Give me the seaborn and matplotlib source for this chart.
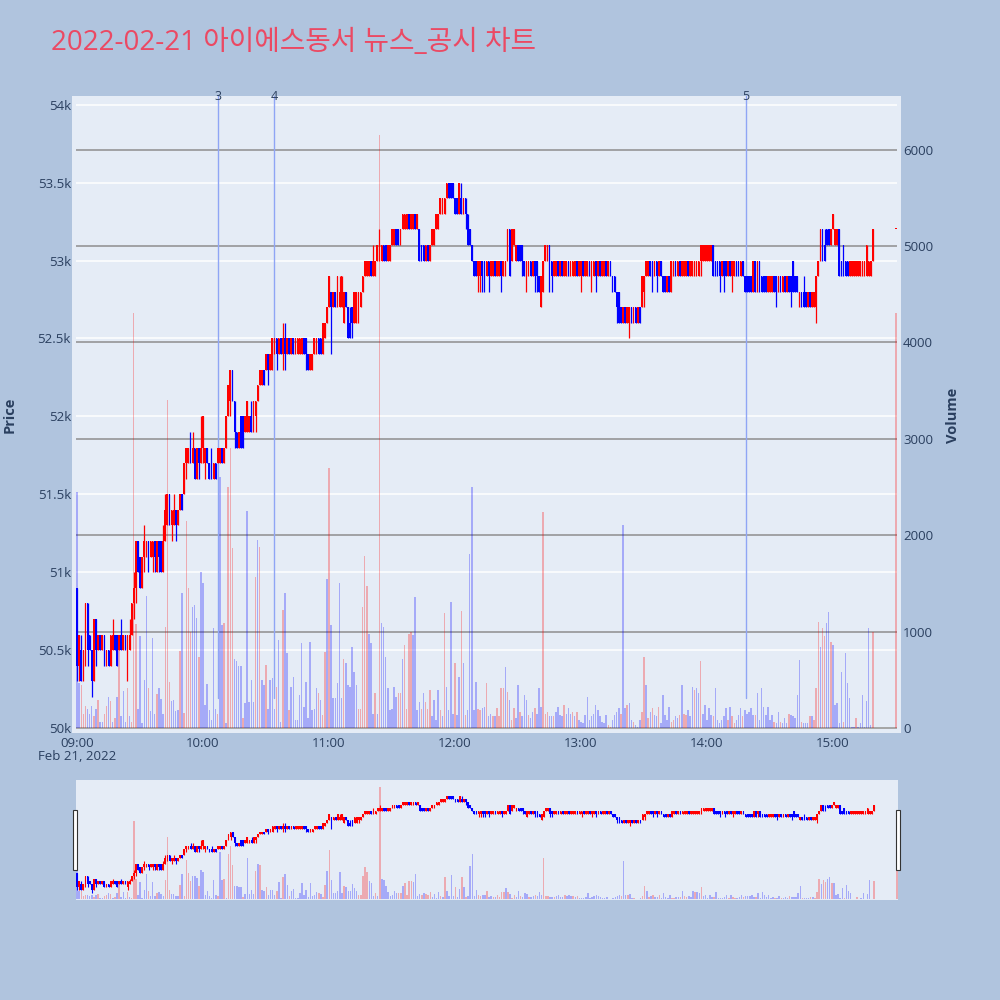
import matplotlib
matplotlib.use("Agg")
import matplotlib.pyplot as plt
import seaborn as sns
import pandas as pd
from matplotlib.patches import Rectangle

# minutes after 09:00, last entry is the 15:30 closing auction
minutes = list(range(380)) + [390]

# one-minute candles, prices in units of 100 won
opens = [
    509, 504, 505, 503, 504, 508, 506, 505, 503, 507, 505, 506, 505, 506, 504, 505, 504, 505, 506, 506,
    505, 506, 505, 506, 504, 505, 506, 508, 509, 512, 511, 509, 511, 511, 512, 511, 511, 512, 510, 512,
    512, 510, 512, 513, 515, 513, 513, 514, 513, 514, 515, 515, 517, 517, 518, 517, 518, 516, 518, 517,
    518, 517, 518, 517, 517, 516, 517, 517, 517, 518, 517, 518, 520, 521, 523, 521, 519, 518, 520, 520,
    519, 519, 519, 520, 519, 520, 521, 522, 522, 523, 523, 524, 523, 523, 524, 525, 524, 525, 524, 525,
    524, 525, 524, 525, 524, 524, 524, 524, 525, 525, 524, 523, 523, 524, 524, 525, 525, 524, 525, 526,
    527, 528, 527, 528, 527, 527, 527, 526, 528, 527, 526, 527, 526, 526, 527, 527, 528, 529, 529, 529,
    530, 529, 529, 530, 530, 530, 531, 531, 530, 530, 531, 531, 532, 532, 531, 532, 532, 532, 533, 532,
    532, 533, 532, 532, 531, 531, 530, 531, 530, 531, 531, 532, 532, 533, 533, 533, 534, 535, 535, 535,
    534, 534, 533, 534, 533, 534, 533, 532, 531, 530, 530, 529, 529, 530, 530, 529, 530, 529, 529, 530,
    529, 529, 530, 529, 529, 530, 532, 530, 531, 530, 531, 531, 531, 530, 528, 529, 530, 529, 530, 530,
    529, 527, 528, 530, 530, 531, 530, 529, 529, 530, 529, 530, 529, 529, 530, 529, 529, 529, 530, 529,
    529, 530, 529, 529, 530, 529, 529, 530, 529, 530, 529, 529, 530, 529, 530, 529, 529, 528, 528, 527,
    526, 527, 526, 526, 527, 526, 527, 526, 527, 527, 528, 529, 529, 530, 530, 529, 530, 529, 530, 529,
    529, 528, 529, 528, 529, 530, 529, 530, 529, 529, 529, 530, 529, 529, 529, 529, 529, 530, 530, 530,
    530, 530, 530, 531, 530, 530, 530, 529, 530, 530, 529, 530, 529, 529, 530, 530, 529, 530, 529, 529,
    529, 529, 528, 530, 529, 530, 529, 529, 529, 528, 528, 528, 529, 529, 528, 529, 528, 529, 528, 529,
    529, 530, 529, 529, 527, 528, 528, 528, 527, 528, 527, 527, 527, 529, 530, 532, 531, 532, 532, 531,
    532, 531, 531, 532, 530, 531, 530, 530, 529, 529, 529, 529, 529, 529, 529, 529, 529, 529, 529, 530,
    532,
]
closes = [
    504, 506, 503, 505, 508, 505, 505, 503, 507, 505, 506, 505, 506, 504, 505, 504, 506, 506, 505, 504,
    506, 505, 506, 505, 506, 506, 508, 509, 512, 510, 509, 511, 512, 512, 511, 512, 512, 511, 512, 511,
    510, 512, 514, 515, 513, 514, 514, 513, 514, 515, 514, 517, 518, 518, 517, 518, 516, 518, 517, 518,
    520, 518, 517, 516, 516, 517, 516, 518, 518, 517, 518, 520, 522, 523, 521, 519, 518, 519, 518, 518,
    520, 521, 520, 519, 521, 521, 522, 523, 523, 522, 524, 523, 524, 525, 525, 524, 525, 524, 525, 524,
    525, 524, 525, 524, 525, 525, 525, 525, 524, 524, 523, 524, 524, 525, 525, 524, 524, 526, 526, 527,
    529, 527, 528, 527, 529, 528, 529, 528, 527, 525, 525, 526, 528, 528, 528, 528, 529, 530, 530, 530,
    529, 530, 530, 531, 531, 531, 530, 530, 531, 531, 532, 532, 531, 531, 532, 533, 533, 533, 532, 533,
    533, 532, 533, 530, 530, 530, 531, 530, 531, 532, 532, 533, 533, 534, 534, 534, 535, 534, 534, 534,
    533, 533, 535, 533, 534, 533, 531, 531, 530, 529, 529, 530, 530, 529, 529, 530, 529, 530, 530, 529,
    530, 530, 529, 530, 530, 532, 529, 532, 532, 531, 530, 530, 530, 529, 530, 530, 529, 530, 529, 529,
    528, 529, 530, 531, 531, 529, 529, 530, 530, 529, 530, 529, 530, 530, 529, 530, 530, 530, 529, 530,
    530, 529, 530, 530, 529, 530, 530, 529, 530, 529, 530, 530, 529, 530, 529, 528, 528, 527, 526, 526,
    527, 526, 527, 527, 526, 527, 526, 527, 526, 529, 529, 530, 530, 529, 529, 530, 529, 530, 529, 528,
    528, 529, 528, 530, 530, 529, 530, 529, 530, 530, 530, 529, 530, 530, 530, 530, 530, 531, 531, 531,
    531, 531, 531, 529, 529, 529, 529, 530, 529, 529, 530, 529, 530, 530, 529, 529, 530, 529, 528, 528,
    528, 528, 530, 528, 530, 528, 528, 528, 528, 529, 529, 529, 528, 528, 529, 528, 529, 528, 529, 528,
    528, 528, 528, 528, 528, 527, 527, 527, 528, 527, 528, 528, 529, 530, 532, 530, 530, 531, 531, 532,
    533, 532, 532, 529, 529, 529, 529, 529, 530, 530, 530, 530, 530, 530, 530, 530, 531, 530, 530, 532,
    532,
]
highs = [
    509, 506, 506, 505, 508, 508, 506, 505, 507, 507, 506, 506, 506, 506, 505, 505, 506, 507, 506, 506,
    506, 507, 506, 506, 506, 507, 508, 510, 512, 512, 511, 511, 513, 512, 512, 512, 512, 512, 512, 512,
    512, 513, 515, 515, 515, 514, 515, 514, 514, 515, 515, 517, 518, 518, 519, 519, 518, 518, 518, 520,
    520, 518, 518, 517, 518, 517, 517, 518, 518, 518, 518, 520, 522, 523, 523, 521, 519, 519, 520, 520,
    520, 521, 520, 521, 521, 521, 522, 523, 523, 523, 524, 524, 524, 525, 525, 525, 525, 525, 526, 526,
    525, 525, 525, 525, 525, 525, 525, 525, 525, 525, 524, 524, 524, 525, 525, 525, 525, 526, 526, 527,
    529, 528, 528, 528, 529, 529, 529, 528, 528, 527, 527, 527, 528, 528, 528, 528, 529, 530, 530, 530,
    530, 531, 530, 531, 532, 531, 531, 531, 531, 531, 532, 532, 532, 532, 532, 533, 533, 533, 533, 533,
    533, 533, 533, 532, 531, 531, 531, 531, 531, 532, 532, 533, 533, 534, 534, 534, 535, 535, 535, 535,
    534, 534, 535, 535, 534, 534, 533, 532, 531, 530, 530, 530, 530, 530, 530, 530, 530, 530, 530, 530,
    530, 530, 530, 530, 530, 532, 532, 532, 532, 531, 531, 531, 531, 530, 530, 530, 530, 530, 530, 530,
    529, 529, 530, 531, 531, 531, 530, 530, 530, 530, 530, 530, 530, 530, 530, 530, 530, 530, 530, 530,
    530, 530, 530, 530, 530, 530, 530, 530, 530, 530, 530, 530, 530, 530, 530, 529, 529, 528, 528, 527,
    527, 527, 527, 527, 527, 527, 527, 527, 527, 529, 529, 530, 530, 530, 530, 530, 530, 530, 530, 529,
    529, 529, 529, 530, 530, 530, 530, 530, 530, 530, 530, 530, 530, 530, 530, 530, 530, 531, 531, 531,
    531, 531, 531, 531, 530, 530, 530, 530, 530, 530, 530, 530, 530, 530, 530, 530, 530, 530, 529, 529,
    529, 529, 530, 530, 530, 530, 529, 529, 529, 529, 529, 529, 529, 529, 529, 529, 529, 529, 529, 529,
    529, 530, 529, 529, 528, 528, 529, 528, 528, 528, 528, 528, 529, 530, 532, 532, 532, 532, 532, 532,
    533, 532, 532, 532, 530, 531, 530, 530, 530, 530, 530, 530, 530, 530, 530, 530, 531, 530, 530, 532,
    532,
]
lows = [
    503, 503, 503, 503, 504, 504, 505, 502, 503, 504, 505, 505, 505, 504, 504, 504, 504, 505, 505, 504,
    505, 505, 505, 505, 503, 505, 506, 507, 508, 510, 509, 509, 510, 511, 510, 511, 510, 510, 510, 510,
    510, 510, 512, 513, 513, 512, 513, 512, 513, 514, 514, 515, 516, 517, 517, 517, 516, 516, 516, 517,
    517, 516, 517, 516, 516, 516, 516, 517, 517, 517, 517, 518, 520, 520, 521, 518, 518, 518, 518, 518,
    519, 519, 519, 519, 519, 519, 521, 522, 522, 522, 523, 522, 523, 523, 524, 523, 524, 524, 523, 523,
    524, 524, 524, 524, 524, 524, 524, 524, 524, 523, 523, 523, 523, 524, 524, 524, 524, 524, 525, 526,
    527, 524, 527, 527, 527, 527, 527, 526, 527, 525, 525, 525, 526, 526, 526, 527, 528, 529, 529, 529,
    529, 529, 529, 530, 530, 530, 530, 530, 530, 530, 531, 531, 531, 531, 531, 532, 532, 532, 532, 532,
    532, 532, 532, 530, 530, 530, 530, 530, 530, 531, 531, 532, 532, 533, 533, 533, 534, 534, 534, 534,
    533, 533, 533, 533, 533, 532, 531, 531, 530, 529, 529, 528, 528, 528, 528, 529, 528, 529, 529, 529,
    529, 529, 528, 529, 529, 530, 529, 530, 531, 530, 530, 530, 529, 529, 528, 529, 529, 529, 528, 528,
    528, 527, 528, 530, 530, 528, 528, 529, 529, 529, 529, 529, 529, 529, 529, 529, 529, 529, 529, 529,
    528, 529, 529, 529, 529, 528, 529, 528, 529, 529, 529, 529, 529, 529, 529, 528, 528, 526, 526, 526,
    526, 526, 526, 525, 526, 526, 526, 526, 526, 527, 527, 529, 529, 529, 528, 529, 528, 529, 529, 528,
    528, 528, 528, 528, 529, 529, 529, 529, 529, 529, 529, 529, 529, 529, 529, 529, 529, 529, 530, 530,
    530, 530, 530, 529, 529, 529, 528, 529, 528, 529, 529, 529, 528, 529, 529, 529, 529, 529, 528, 528,
    528, 528, 528, 528, 528, 528, 528, 528, 528, 528, 528, 528, 528, 527, 528, 528, 528, 528, 528, 528,
    527, 528, 528, 528, 527, 527, 527, 527, 527, 527, 527, 527, 526, 529, 530, 530, 530, 531, 531, 531,
    532, 531, 531, 529, 529, 529, 529, 529, 529, 529, 529, 529, 529, 529, 529, 529, 529, 529, 529, 530,
    532,
]

# traded volume per minute and whether it counts as up (u, red) or down (d, blue)
volumes = [
    2450, 470, 450, 150, 230, 200, 150, 230, 120, 200, 290, 60, 60, 150, 230, 320, 280, 60, 100, 320,
    950, 120, 380, 60, 410, 120, 60, 4300, 1080, 200, 950, 50, 500, 1370, 420, 180, 930, 150, 350, 410,
    300, 150, 1050, 3400, 480, 280, 290, 180, 190, 800, 1400, 160, 2150, 1450, 1000, 1260, 1280, 1140, 740, 1620,
    1500, 240, 460, 190, 80, 1035, 200, 150, 2600, 1070, 1090, 50, 2500, 2900, 1870, 720, 700, 640, 640, 100,
    255, 2250, 270, 500, 270, 1570, 1950, 1880, 500, 450, 650, 200, 500, 515, 200, 430, 915, 65, 1225, 1400,
    775, 190, 430, 530, 80, 80, 340, 880, 220, 480, 100, 895, 190, 200, 410, 360, 290, 135, 790, 1550,
    2700, 1070, 310, 310, 465, 1500, 310, 720, 670, 450, 430, 845, 585, 450, 200, 200, 1260, 1780, 1470, 980,
    880, 150, 360, 150, 6150, 1085, 1050, 740, 410, 190, 200, 430, 325, 360, 360, 720, 860, 200, 980, 1000,
    965, 1360, 190, 270, 200, 360, 270, 200, 395, 120, 290, 85, 395, 190, 120, 1190, 430, 190, 1310, 150,
    670, 135, 530, 1210, 670, 135, 190, 1800, 2500, 190, 480, 200, 185, 205, 220, 465, 120, 150, 120, 120,
    205, 120, 410, 410, 635, 375, 290, 85, 205, 100, 445, 170, 120, 340, 290, 135, 100, 170, 205, 150,
    410, 220, 2240, 150, 170, 120, 120, 120, 170, 220, 135, 120, 240, 150, 205, 150, 170, 120, 170, 85,
    65, 50, 135, 325, 85, 120, 150, 240, 185, 120, 65, 50, 135, 30, 15, 85, 135, 170, 205, 150,
    2110, 205, 240, 255, 85, 65, 30, 15, 85, 170, 740, 445, 100, 170, 205, 135, 120, 220, 50, 340,
    135, 85, 220, 65, 85, 120, 100, 135, 445, 150, 135, 185, 120, 430, 395, 410, 360, 690, 150, 240,
    85, 205, 135, 120, 410, 85, 50, 85, 120, 205, 85, 220, 120, 50, 85, 135, 205, 120, 185, 150,
    170, 205, 135, 135, 360, 85, 410, 220, 135, 220, 85, 135, 65, 50, 170, 65, 50, 100, 50, 150,
    135, 120, 100, 340, 705, 65, 50, 50, 50, 120, 120, 85, 410, 1100, 845, 1035, 950, 1085, 1205, 895,
    860, 240, 255, 50, 585, 65, 775, 465, 310, 15, 15, 100, 15, 50, 340, 15, 275, 1035, 30, 1000,
    4300,
]
vol_dir = (
    "d d u u u d d d u d u d d u u d u d u d "
    "u d d d u d u u u d d d d d u d d d u d "
    "d d u u u d d d d u d u u u u d d d u d "
    "d d d d d d d u d d u d u u u d d d d u "
    "d d d d d u d u d d u d d d d u d d u d "
    "d u d d d d d d d d d d d d d u d u u d "
    "u d d d d d d u d d d d d d u u u u u d "
    "d d u d u d d d d d d d d u u d u u u u "
    "d d d d u d u u u d d d d u d u d d d d "
    "u d d u d u d d d d d u u d d u d d u d "
    "u u u u d u d u u d d u d d d u d d u d "
    "d d u u u d d u d d d d u d d d u d u d "
    "d d d d d d d d d d d d d u u d d d d u "
    "d d u d d u d d d u u d u d u d d u d d "
    "d d d u u d d u d u u d d d u d d u d d "
    "d d d u d d d d d d u d u u d d d u d d "
    "d d d u d d d d d d d d u d d u d d d u "
    "d d d d d u d d d u d u u u d u u d d u "
    "d d d d d u d d d d d u d d d d d d d u "
    "u"
).split()

hour_ticks = [0, 60, 120, 180, 240, 300, 360]
hour_labels = ["09:00", "10:00", "11:00", "12:00", "13:00", "14:00", "15:00"]
price_ticks = [50000, 50500, 51000, 51500, 52000, 52500, 53000, 53500, 54000]
price_labels = ["50k", "50.5k", "51k", "51.5k", "52k", "52.5k", "53k", "53.5k", "54k"]
vol_ticks = [0, 1000, 2000, 3000, 4000, 5000, 6000]
news_minutes = [67, 94, 318.5]
news_labels = ["3", "4", "5"]

BG = "#B0C4DE"
PLOT_BG = "#E5ECF6"
UP = "#FF0000"
DOWN = "#0000FF"
TXT = "#2a3f5f"
PMIN, PMAX = 49968, 54056
VMIN, VMAX = -52, 6556

df = pd.DataFrame({
    "minute": minutes,
    "open": [p * 100 for p in opens],
    "close": [p * 100 for p in closes],
    "high": [p * 100 for p in highs],
    "low": [p * 100 for p in lows],
    "volume": volumes,
    "dir": vol_dir,
})

sns.set_theme(style="white", rc={"figure.facecolor": BG, "axes.facecolor": PLOT_BG})
plt.rcParams["font.family"] = ["Open Sans", "Noto Sans CJK KR", "DejaVu Sans"]


def draw_volume(ax):
    sns.barplot(data=df, x="minute", y="volume", hue="dir", hue_order=["u", "d"],
                palette={"u": UP, "d": DOWN}, native_scale=True, dodge=False,
                errorbar=None, width=0.7, saturation=1, alpha=0.28, linewidth=0,
                legend=False, ax=ax)
    ax.set_ylim(VMIN, VMAX)
    ax.set_xlim(-0.5, 390.5)
    ax.set_xlabel("")
    ax.set_ylabel("")


def draw_candles(ax, wick_lw, body_w):
    up = df["close"] >= df["open"]
    for mask, col in ((up, UP), (~up, DOWN)):
        d = df[mask]
        ax.vlines(d["minute"], d["low"], d["high"], color=col, lw=wick_lw, zorder=3)
        bottom = d[["open", "close"]].min(axis=1)
        height = (d["close"] - d["open"]).abs().clip(lower=8)
        ax.bar(d["minute"], height, bottom=bottom, width=body_w, color=col,
               linewidth=0, zorder=4)
    ax.set_ylim(PMIN, PMAX)
    ax.set_xlim(-0.5, 390.5)


fig = plt.figure(figsize=(10, 10), dpi=100)
fig.add_artist(Rectangle((0.072, 0.267), 0.829, 0.637, transform=fig.transFigure,
                         facecolor=PLOT_BG, edgecolor="none", zorder=-1))

# main panel: volume (right axis) underneath, price candles (left axis) on top
axv = fig.add_axes([0.076, 0.267, 0.821, 0.637])
draw_volume(axv)
axv.set_axisbelow(True)
axv.grid(axis="y", color="#8e8e8e", lw=1.1)
axv.grid(axis="x", visible=False)
for p in price_ticks:
    f = (p - PMIN) / (PMAX - PMIN)
    axv.plot([0, 1], [f, f], transform=axv.transAxes, color="white", lw=1.1, zorder=0.4)
for m, lab in zip(news_minutes, news_labels):
    axv.axvline(m, ymin=0.055, ymax=1, color="#8fa5f5", lw=1, zorder=2)
    axv.text(m, 1.0, lab, transform=axv.get_xaxis_transform(),
             ha="center", va="center", fontsize=9, color=TXT)

axp = axv.twinx()
draw_candles(axp, 0.9, 0.8)

axv.yaxis.tick_right()
axp.yaxis.tick_left()
axv.set_yticks(vol_ticks, [str(v) for v in vol_ticks])
axp.set_yticks(price_ticks, price_labels)
axv.set_xticks(hour_ticks, hour_labels)
axv.tick_params(axis="y", length=0, pad=4.3, labelsize=9.5, labelcolor=TXT)
axp.tick_params(axis="y", length=0, pad=3.6, labelsize=9.5, labelcolor=TXT)
axv.tick_params(axis="x", length=0, pad=3, labelsize=9.5, labelcolor=TXT)
axp.grid(False)
for a in (axv, axp):
    for s in a.spines.values():
        s.set_visible(False)

fig.text(0.077, 1 - 0.757, "Feb 21, 2022", ha="center", va="center", fontsize=9.5, color=TXT)
fig.text(0.010, 1 - 0.415, "Price", rotation=90, ha="center", va="center",
         fontsize=10.5, fontweight="bold", color=TXT)
fig.text(0.953, 1 - 0.415, "Volume", rotation=90, ha="center", va="center",
         fontsize=10.5, fontweight="bold", color=TXT)
fig.text(0.051, 1 - 0.050, "2022-02-21 아이에스동서 뉴스_공시 차트", ha="left", va="baseline",
         fontsize=20, color="#EB4963")

# range slider overview
axs = fig.add_axes([0.076, 0.100, 0.822, 0.120])
axs.set_facecolor(PLOT_BG)
draw_volume(axs)
axs2 = axs.twinx()
draw_candles(axs2, 0.8, 0.85)
for a in (axs, axs2):
    a.set_xticks([])
    a.set_yticks([])
    a.grid(False)
    for s in a.spines.values():
        s.set_visible(False)
for x0 in (0.0733, 0.896):
    fig.add_artist(Rectangle((x0, 0.130), 0.0039, 0.060, transform=fig.transFigure,
                             facecolor="white", edgecolor="#333333", lw=0.8, zorder=5))

fig.savefig("out.png", dpi=100, facecolor=BG)
